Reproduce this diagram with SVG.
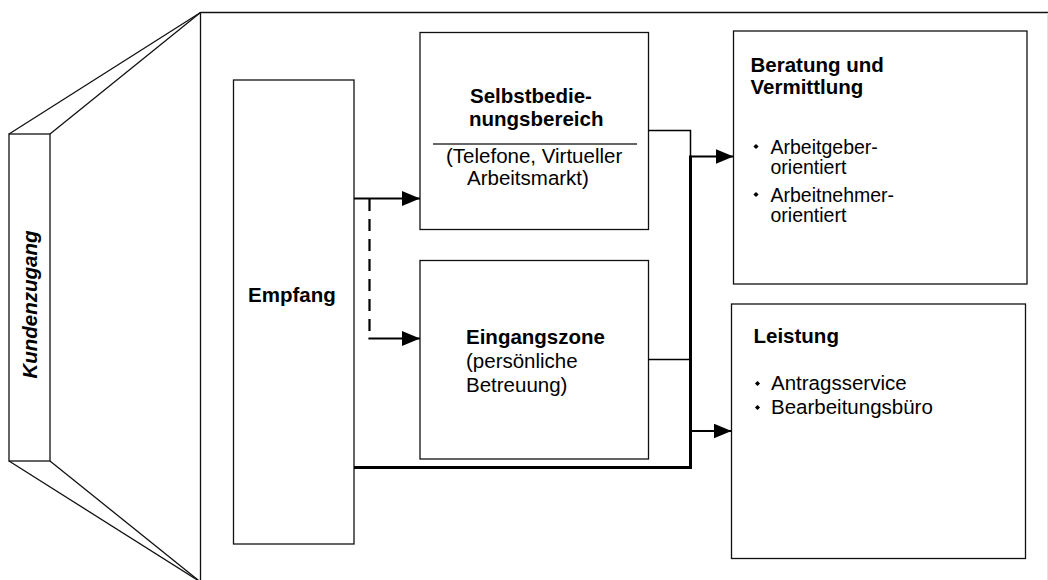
<svg xmlns="http://www.w3.org/2000/svg" width="1048" height="580" viewBox="0 0 1048 580">
<defs>
<style>
.box{fill:#fff;stroke:#111;stroke-width:1.3}
.edge{fill:none;stroke:#111;stroke-width:1.3}
.t{font-family:"Liberation Sans",Arial,sans-serif;font-size:20.5px;fill:#000}
.l{font-family:"Liberation Sans",Arial,sans-serif;font-size:19.5px;fill:#000}
.b{font-weight:bold}
.c{fill:none;stroke:#000}
.thin{stroke-width:1.5}
.mid{stroke-width:2.2}
.thick{stroke-width:3}
</style>
<marker id="ah" viewBox="0 0 18 15" refX="18" refY="7.5" markerWidth="18" markerHeight="15" markerUnits="userSpaceOnUse" orient="auto">
<path d="M0,0 L18,7.5 L0,15 z" fill="#000"/>
</marker>
<path id="bullet" d="M0,-2.6 L2.6,0 L0,2.6 L-2.6,0 z" fill="#000"/>
</defs>
<rect width="1048" height="580" fill="#fff"/>

<g id="frame">
<line class="edge" x1="200.5" y1="12.5" x2="1048" y2="12.5"/>
<line class="edge" x1="200.5" y1="12" x2="200.5" y2="580"/>
<line x1="1047.5" y1="13" x2="1047.5" y2="580" stroke="#e4e4e4" stroke-width="1"/>
</g>

<g id="kundenzugang">
<rect class="box" x="9" y="134" width="41" height="327"/>
<line class="edge" x1="9" y1="134" x2="200.5" y2="12.5"/>
<line class="edge" x1="50" y1="134" x2="200.5" y2="12.5"/>
<line class="edge" x1="9" y1="461" x2="200.5" y2="582"/>
<line class="edge" x1="50" y1="461" x2="200.5" y2="582"/>
<text class="t b" font-style="italic" font-size="19.5" text-anchor="middle" transform="translate(37,304.5) rotate(-90)">Kundenzugang</text>
</g>

<g id="empfang">
<rect class="box" x="233.5" y="80" width="120.5" height="464"/>
<text class="t b" x="248" y="302">Empfang</text>
</g>

<g id="selbstbedienung">
<rect class="box" x="420" y="32.5" width="228.5" height="197"/>
<text class="t b" x="470" y="103">Selbstbedie-</text>
<text class="t b" x="469" y="125.5">nungsbereich</text>
<line x1="433" y1="144" x2="637" y2="144" stroke="#333" stroke-width="1.3"/>
<text class="t" x="446" y="163">(Telefone, Virtueller</text>
<text class="t" x="467" y="184.5">Arbeitsmarkt)</text>
</g>

<g id="eingangszone">
<rect class="box" x="420" y="260.5" width="228.5" height="198.5"/>
<text class="t b" x="466" y="344">Eingangszone</text>
<text class="t" x="466" y="368">(persönliche</text>
<text class="t" x="466" y="391.5">Betreuung)</text>
</g>

<g id="beratung">
<rect class="box" x="733.5" y="31" width="293.5" height="253"/>
<text class="t b" x="750.5" y="71.5">Beratung und</text>
<text class="t b" x="750.5" y="94">Vermittlung</text>
<use href="#bullet" x="756" y="146.5"/>
<text class="l" x="770.5" y="154"><tspan x="770.5" y="154">Arbeitgeber-</tspan><tspan x="770.5" y="174">orientiert</tspan></text>
<use href="#bullet" x="756" y="194.5"/>
<text class="l" x="770.5" y="202"><tspan x="770.5" y="202">Arbeitnehmer-</tspan><tspan x="770.5" y="222">orientiert</tspan></text>
</g>

<g id="leistung">
<rect class="box" x="731.5" y="304" width="294" height="254.5"/>
<text class="t b" x="753.5" y="342.5">Leistung</text>
<use href="#bullet" x="757.5" y="383.5"/>
<text class="t" x="771" y="390">Antragsservice</text>
<use href="#bullet" x="757.5" y="407.5"/>
<text class="t" x="771" y="414">Bearbeitungsbüro</text>
</g>

<g id="connectors">
<line class="c mid" x1="354" y1="198.5" x2="420" y2="198.5" marker-end="url(#ah)"/>
<line class="c mid" x1="369.5" y1="199" x2="369.5" y2="338" stroke-dasharray="12 8"/>
<line class="c mid" x1="368.4" y1="338.5" x2="420" y2="338.5" marker-end="url(#ah)"/>
<polyline class="c thin" points="648.5,130.5 690.5,130.5 690.5,157"/>
<line class="c mid" x1="690" y1="156.5" x2="733.5" y2="156.5" marker-end="url(#ah)"/>
<line class="c thin" x1="648.5" y1="359.5" x2="690" y2="359.5"/>
<line class="c thick" x1="690.5" y1="155.5" x2="690.5" y2="469"/>
<line class="c thick" x1="354" y1="467.5" x2="692" y2="467.5"/>
<line class="c mid" x1="690" y1="431" x2="731.5" y2="431" marker-end="url(#ah)"/>
</g>
</svg>
